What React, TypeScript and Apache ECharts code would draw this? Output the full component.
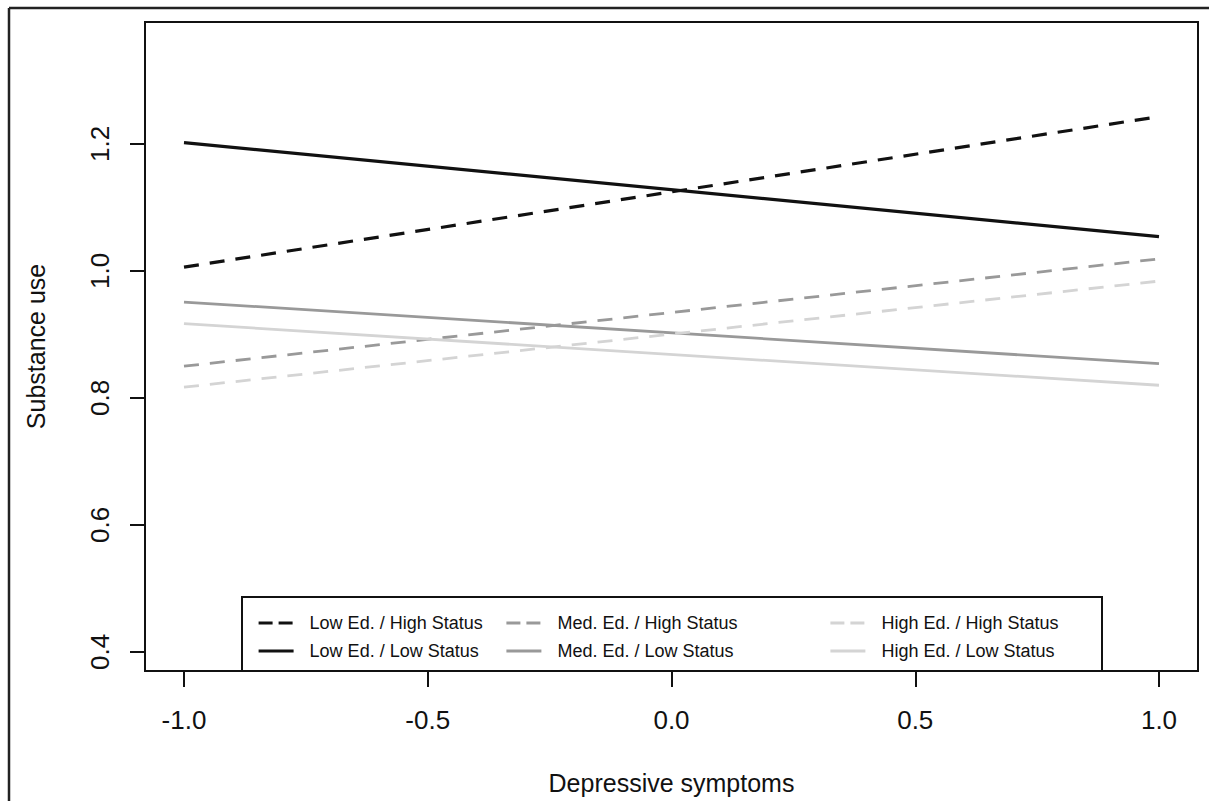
import React, { useEffect, useRef } from "react";
import * as echarts from "echarts";

const xValues = [-1, 1];
const lowEdHigh = [1.006, 1.243];
const lowEdLow = [1.202, 1.054];
const medEdHigh = [0.85, 1.019];
const medEdLow = [0.951, 0.854];
const highEdHigh = [0.817, 0.984];
const highEdLow = [0.917, 0.82];
const xTicks = [-1, -0.5, 0, 0.5, 1];
const yTicks = [0.4, 0.6, 0.8, 1.0, 1.2];

const FONT = "'Liberation Sans', Arial, Helvetica, sans-serif";
const BLACK = "#111111";
const MID = "#999999";
const LIGHT = "#d4d4d4";

const seriesDefs = [
  { name: "Low Ed. / High Status", data: lowEdHigh, color: BLACK, dashed: true, width: 3.2 },
  { name: "Low Ed. / Low Status", data: lowEdLow, color: BLACK, dashed: false, width: 3.2 },
  { name: "Med. Ed. / High Status", data: medEdHigh, color: MID, dashed: true, width: 2.8 },
  { name: "Med. Ed. / Low Status", data: medEdLow, color: MID, dashed: false, width: 2.8 },
  { name: "High Ed. / High Status", data: highEdHigh, color: LIGHT, dashed: true, width: 2.8 },
  { name: "High Ed. / Low Status", data: highEdLow, color: LIGHT, dashed: false, width: 2.8 },
];

export default function App() {
  const ref = useRef<HTMLDivElement>(null);
  useEffect(() => {
    if (!ref.current) return;
    const chart = echarts.init(ref.current, undefined, { renderer: "svg" });
    const legendCols = [
      { left: 257, names: [seriesDefs[0], seriesDefs[1]] },
      { left: 505, names: [seriesDefs[2], seriesDefs[3]] },
      { left: 829, names: [seriesDefs[4], seriesDefs[5]] },
    ];
    chart.setOption({
      animation: false,
      backgroundColor: "#ffffff",
      grid: {
        left: 145,
        top: 22,
        right: 11,
        bottom: 130,
        show: true,
        containLabel: false,
        outerBoundsMode: "none",
        borderColor: "#111",
        borderWidth: 2,
        backgroundColor: "transparent",
      },
      xAxis: {
        type: "value",
        min: -1.08,
        max: 1.08,
        name: "Depressive symptoms",
        nameLocation: "middle",
        nameGap: 99,
        nameTextStyle: { fontFamily: FONT, fontSize: 25, color: "#111" },
        axisLine: { show: false, onZero: false },
        splitLine: { show: false },
        axisTick: {
          show: true,
          inside: false,
          length: 16,
          lineStyle: { color: "#111", width: 2 },
          customValues: xTicks,
        },
        axisLabel: {
          customValues: xTicks,
          margin: 36,
          fontFamily: FONT,
          fontSize: 26,
          color: "#111",
          formatter: (v: number) => v.toFixed(1),
        },
      },
      yAxis: {
        type: "value",
        min: 0.37,
        max: 1.392,
        name: "Substance use",
        nameLocation: "middle",
        nameGap: 97,
        nameRotate: 90,
        nameTextStyle: { fontFamily: FONT, fontSize: 25, color: "#111" },
        axisLine: { show: false, onZero: false },
        splitLine: { show: false },
        axisTick: {
          show: true,
          inside: false,
          length: 15,
          lineStyle: { color: "#111", width: 2 },
          customValues: yTicks,
        },
        axisLabel: {
          customValues: yTicks,
          rotate: 90,
          margin: 32,
          fontFamily: FONT,
          fontSize: 26,
          color: "#111",
          formatter: (v: number) => v.toFixed(1),
        },
      },
      legend: legendCols.map((col) => ({
        orient: "vertical",
        left: col.left,
        top: 613,
        padding: 0,
        itemGap: 8,
        itemWidth: 35,
        itemHeight: 20,
        selectedMode: false,
        textStyle: {
          fontFamily: FONT,
          fontSize: 18,
          lineHeight: 20,
          color: "#111",
          padding: [0, 0, 0, 11],
        },
        data: col.names.map((s) => ({
          name: s.name,
          itemStyle: { opacity: 0 },
          lineStyle: s.dashed
            ? { type: [14, 6], width: s.width, color: s.color, opacity: 1 }
            : { width: s.width, color: s.color, opacity: 1 },
        })),
      })),
      graphic: [
        {
          type: "line",
          shape: { x1: 9, y1: 8, x2: 1209, y2: 8 },
          style: { stroke: "#222", lineWidth: 2.5 },
        },
        {
          type: "line",
          shape: { x1: 9, y1: 8, x2: 9, y2: 801 },
          style: { stroke: "#222", lineWidth: 2.5 },
        },
        {
          type: "rect",
          shape: { x: 242, y: 597, width: 860, height: 74 },
          style: { fill: "#ffffff", stroke: "#111", lineWidth: 2 },
          z: -1,
        },
      ],
      series: seriesDefs.map((s) => ({
        name: s.name,
        type: "line",
        symbol: "none",
        data: xValues.map((x, i) => [x, s.data[i]]),
        lineStyle: {
          color: s.color,
          width: s.width,
          type: s.dashed ? [15, 11] : "solid",
        },
        itemStyle: { color: s.color },
      })),
    });
    return () => chart.dispose();
  }, []);
  return (
    <div
      ref={ref}
      style={{ position: "fixed", left: 0, top: 0, width: 1209, height: 801 }}
    />
  );
}
